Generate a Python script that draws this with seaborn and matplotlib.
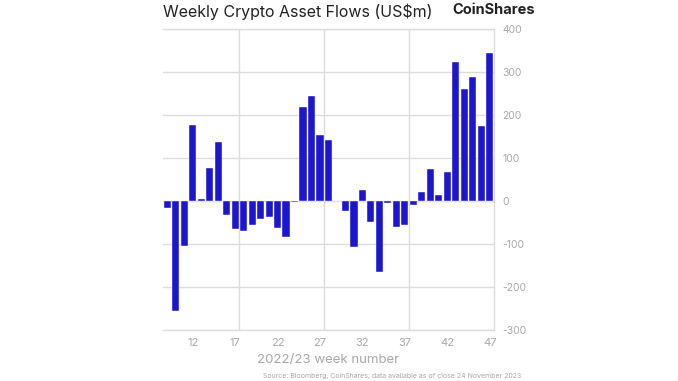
import pandas as pd
import matplotlib.pyplot as plt
import seaborn as sns

sns.set_style("white")
plt.rcParams['font.family'] = ['Inter', 'DejaVu Sans']

# weekly flows, US$m, weeks 9..47
weeks = list(range(9, 48))
flows = [-15, -255, -104, 178, 5, 77, 137, -33, -66, -69,
         -56, -41, -36, -63, -83, -2, 220, 245, 155, 142,
         1, -22, -107, 27, -48, -166, -4, -61, -55, -8,
         22, 75, 14, 67, 325, 260, 290, 175, 346]
label_weeks = [12, 17, 22, 27, 32, 37, 42, 47]
y_ticks = [-300, -200, -100, 0, 100, 200, 300, 400]

df = pd.DataFrame({"week": [str(w) for w in weeks], "flow": flows})

fig = plt.figure(figsize=(6.78, 3.81), dpi=100)
ax = fig.add_axes([0.2404, 0.134, 0.4882, 0.789])

sns.barplot(data=df, x="week", y="flow", order=df["week"], color="#1c16cc",
            saturation=1, width=0.84, ax=ax, edgecolor="white", linewidth=0.3)

grid_c = "#dcdcdc"
ax.set_xlim(-0.5, len(weeks) - 0.5)
ax.set_ylim(-300, 400)
ax.set_yticks(y_ticks)
ax.yaxis.tick_right()
ax.set_yticklabels([str(v) for v in y_ticks], color="#a8a8a8", fontsize=7.5)
pos = [weeks.index(w) for w in label_weeks]
ax.set_xticks(pos)
ax.set_xticklabels([str(w) for w in label_weeks], color="#a8a8a8", fontsize=8)
ax.set_xticks([weeks.index(w) + 0.5 for w in [17, 27, 37]], minor=True)
ax.tick_params(which="both", length=0, pad=6)
ax.grid(axis="y", color=grid_c, lw=1)
ax.grid(axis="x", which="minor", color=grid_c, lw=1)
ax.set_axisbelow(True)
ax.set_ylabel("")
ax.set_xlabel("2022/23 week number", color="#a8a8a8", fontsize=9.5, labelpad=4)
ax.spines["left"].set_visible(False)
for s in ["right", "top", "bottom"]:
    ax.spines[s].set_color(grid_c)
    ax.spines[s].set_linewidth(1)

fig.text(0.2404, 0.968, "Weekly Crypto Asset Flows (US$m)", fontsize=11.5,
         color="#222222", va="center", ha="left")
fig.text(0.789, 0.975, "CoinShares", fontsize=10.5, fontweight="bold",
         color="#222222", va="center", ha="right")
fig.text(0.768, 0.012, "Source: Bloomberg, CoinShares, data available as of close 24 November 2023",
         fontsize=5, color="#a8a8a8", ha="right", va="center")

fig.savefig("out.png", dpi=100, facecolor="white")
